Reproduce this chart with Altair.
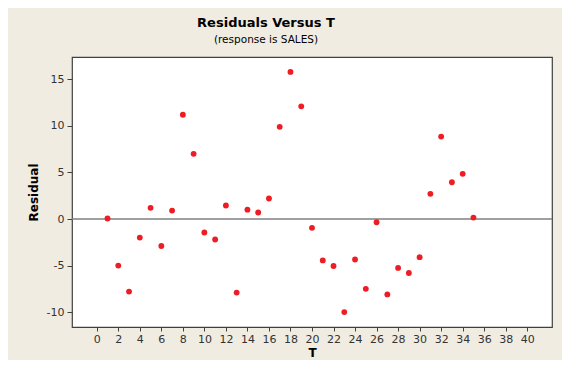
import altair as alt
import pandas as pd

t_values = list(range(1, 36))
residuals = [0.05, -5.0, -7.8, -2.0, 1.2, -2.9, 0.9, 11.2, 7.0, -1.45,
             -2.2, 1.45, -7.9, 1.0, 0.7, 2.2, 9.9, 15.8, 12.1, -0.95,
             -4.45, -5.05, -10.0, -4.35, -7.5, -0.35, -8.1, -5.25, -5.8, -4.1,
             2.7, 8.85, 3.95, 4.85, 0.15]
x_ticks = list(range(0, 41, 2))
y_ticks = [-10, -5, 0, 5, 10, 15]

df = pd.DataFrame({"T": t_values, "Residual": residuals})
zero_df = pd.DataFrame({"y": [0]})

FONT = "DejaVu Sans"

x_enc = alt.X("T:Q", scale=alt.Scale(domain=[-2.3, 42.3], nice=False, zero=False),
              axis=alt.Axis(values=x_ticks, title="T", grid=False, domain=False,
                            tickColor="#404040", tickSize=4, labelColor="#333333",
                            labelFont=FONT, labelFontSize=11, labelPadding=2,
                            titleFont=FONT, titleFontSize=12, titleFontWeight="bold",
                            titleColor="#000000", titlePadding=3, titleBaseline="top",
                            labelFlush=False))
y_enc = alt.Y("Residual:Q", scale=alt.Scale(domain=[-11.6, 17.4], nice=False, zero=False),
              axis=alt.Axis(values=y_ticks, title="Residual", grid=False, domain=False,
                            tickColor="#404040", tickSize=5, labelColor="#333333",
                            labelFont=FONT, labelFontSize=11, labelPadding=3,
                            labelExpr="'' + datum.value",
                            titleFont=FONT, titleFontSize=12, titleFontWeight="bold",
                            titleColor="#000000", titlePadding=6, labelFlush=False))

ref = alt.Chart(zero_df).mark_rule(color="#808080", strokeWidth=1.5).encode(
    y=alt.Y("y:Q", scale=alt.Scale(domain=[-11.6, 17.4], nice=False, zero=False))
)

pts = alt.Chart(df).mark_circle(color="#ee1c24", opacity=1, size=34).encode(
    x=x_enc, y=y_enc
)

chart = alt.layer(ref, pts).properties(
    width=480,
    height=270,
    background="#f0ece2",
    padding={"left": 64, "top": 49, "right": 10, "bottom": 33},
    autosize=alt.AutoSizeParams(type="none"),
    title=alt.TitleParams(
        text="Residuals Versus T",
        subtitle="(response is SALES)",
        font=FONT, fontSize=13, fontWeight="bold", color="#000000",
        subtitleFont=FONT, subtitleFontSize=10.5, subtitleColor="#000000",
        subtitlePadding=5,
        anchor="middle", frame="group", dx=-46, offset=12,
    ),
).configure_view(
    stroke="#404040", strokeWidth=1.2, fill="#ffffff"
)

chart.save("out.html", embed_options={"renderer": "svg", "actions": False})
